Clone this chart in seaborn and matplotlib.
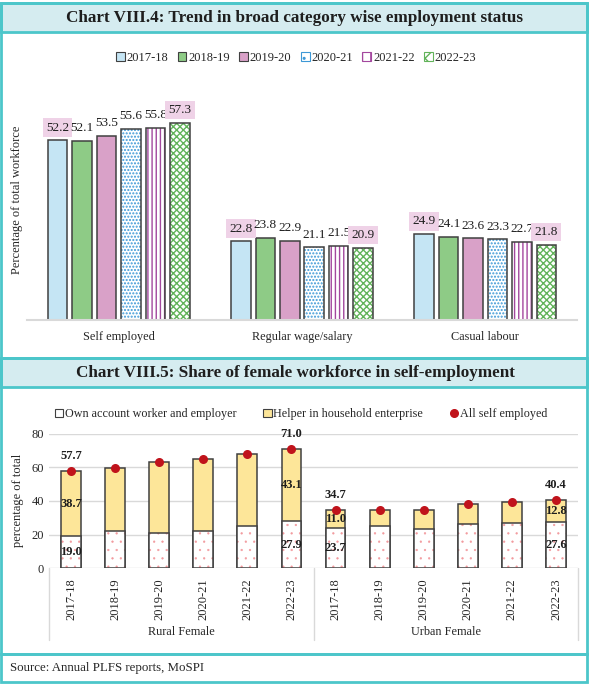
import numpy as np
import pandas as pd
import matplotlib
matplotlib.use('Agg')
import matplotlib.pyplot as plt
import matplotlib.transforms as mtrans
from matplotlib.patches import Rectangle, Patch
from matplotlib.lines import Line2D
import seaborn as sns

# ---- Chart VIII.4 data ----
categories = ['Self employed', 'Regular wage/salary', 'Casual labour']
years = ['2017-18', '2018-19', '2019-20', '2020-21', '2021-22', '2022-23']
self_employed = [52.2, 52.1, 53.5, 55.6, 55.8, 57.3]
regular_wage = [22.8, 23.8, 22.9, 21.1, 21.5, 20.9]
casual_labour = [24.9, 24.1, 23.6, 23.3, 22.7, 21.8]

# ---- Chart VIII.5 data ----
areas = ['Rural Female', 'Urban Female']
rural_own = [19.0, 21.9, 20.7, 21.9, 25.0, 27.9]
rural_all = [57.7, 59.6, 63.0, 64.9, 67.9, 71.0]
urban_own = [23.7, 24.9, 23.5, 26.1, 26.9, 27.6]
urban_all = [34.7, 34.5, 34.4, 38.5, 39.5, 40.4]

sns.set_style('white')
plt.rcParams['font.family'] = ['Liberation Serif', 'DejaVu Serif']
plt.rcParams['hatch.linewidth'] = 1.0

W, H = 591, 685
fig = plt.figure(figsize=(W / 100, H / 100), dpi=100)


def rect(x, y, w, h):
    return [x / W, 1 - (y + h) / H, w / W, h / H]


def outline(ax, bar):
    ax.add_patch(Rectangle(bar.get_xy(), bar.get_width(), bar.get_height(),
                           facecolor='none', edgecolor=edge, lw=1.1, zorder=bar.get_zorder() + 0.1))


teal = '#4cc6ca'
head_fill = '#d5ecf0'
edge = '#404040'

# frames and headers
for (y, h) in [(3, 29), (358, 29)]:
    fig.add_artist(Rectangle((1.5 / W, 1 - (y + h) / H), 585 / W, h / H, transform=fig.transFigure,
                             facecolor=head_fill, edgecolor=teal, lw=2))
for (y, h) in [(3, 355), (358, 296), (654, 28)]:
    fig.add_artist(Rectangle((1.5 / W, 1 - (y + h) / H), 585 / W, h / H, transform=fig.transFigure,
                             facecolor='none', edgecolor=teal, lw=2))

fig.text(295 / W, 1 - 17.5 / H, 'Chart VIII.4: Trend in broad category wise employment status',
         ha='center', va='center', fontsize=12.3, weight='bold', color='#1e1e1e')
fig.text(295 / W, 1 - 373 / H, 'Chart VIII.5: Share of female workforce in self-employment',
         ha='center', va='center', fontsize=12.3, weight='bold', color='#1e1e1e')
fig.text(10 / W, 1 - 668 / H, 'Source: Annual PLFS reports, MoSPI', ha='left', va='center', fontsize=9.3)

# ================= Chart VIII.4 =================
face = {'2017-18': '#c5e5f4', '2018-19': '#8ecb86', '2019-20': '#d9a1c8',
        '2020-21': 'white', '2021-22': 'white', '2022-23': 'white'}
hatch = {'2020-21': ('.....', '#3d98d6'), '2021-22': ('||||', '#a3479e'), '2022-23': ('xxxxx', '#62b35a')}

df1 = pd.DataFrame({'category': np.repeat(categories, len(years)),
                    'year': years * len(categories),
                    'value': self_employed + regular_wage + casual_labour})

ax1 = fig.add_axes(rect(27, 110, 550, 209.5))
sns.barplot(data=df1, x='category', y='value', hue='year', hue_order=years, palette=face,
            saturation=1, width=0.8, gap=0.2, edgecolor=edge, linewidth=1.1, legend=False, ax=ax1)

for yr, cont in zip(years, ax1.containers):
    for bar in cont:
        if yr in hatch:
            h, hc = hatch[yr]
            bar.set_hatch(h)
            bar.set_edgecolor(hc)
            bar.set_linewidth(0)
            outline(ax1, bar)
        v = bar.get_height()
        kw = {}
        if yr in (years[0], years[-1]):
            kw['bbox'] = dict(boxstyle='square,pad=0.25', facecolor='#efd2e7', edgecolor='none')
        ax1.text(bar.get_x() + bar.get_width() / 2, v + 1.9, f'{v:.1f}', ha='center', va='bottom',
                 fontsize=9.5, color='#1e1e1e', **kw)

ax1.set_xlim(-0.5, 2.5)
ax1.set_ylim(0, 61)
ax1.set_yticks([])
ax1.set_xlabel('')
ax1.set_ylabel('Percentage of total workforce', fontsize=9)
ax1.yaxis.set_label_coords(-0.007, 0.57)
ax1.tick_params(axis='x', length=0, labelsize=8.8, pad=8)
sns.despine(ax=ax1, left=True)
ax1.spines['bottom'].set_color('#d9d9d9')
ax1.spines['bottom'].set_linewidth(1.5)

leg1 = []
for yr in years:
    if yr in hatch:
        leg1.append(Patch(facecolor='white', edgecolor=hatch[yr][1], hatch=hatch[yr][0][:2], lw=0.8))
    else:
        leg1.append(Patch(facecolor=face[yr], edgecolor=edge, lw=0.8))
fig.legend(leg1, years, loc='center', bbox_to_anchor=(296 / W, 1 - 58 / H), ncol=6, frameon=False,
           fontsize=9, handlelength=0.7, handleheight=0.7, handletextpad=0.15, columnspacing=0.75)

# ================= Chart VIII.5 =================
slots = [f'{a} {y}' for a in areas for y in years]
df2 = pd.DataFrame({'slot': slots, 'all': rural_all + urban_all, 'own': rural_own + urban_own})

ax2 = fig.add_axes(rect(49, 433.7, 529, 134.6))
sns.barplot(data=df2, x='slot', y='all', color='#fde699', saturation=1, width=0.45,
            edgecolor=edge, linewidth=1.1, ax=ax2)
sns.barplot(data=df2, x='slot', y='own', color='white', saturation=1, width=0.45,
            edgecolor=edge, linewidth=1.1, ax=ax2)
for bar in ax2.containers[1]:
    bar.set_hatch('..')
    bar.set_edgecolor('#f29a9e')
    bar.set_linewidth(0)
    if hasattr(bar, 'set_hatch_linewidth'):
        bar.set_hatch_linewidth(0.4)
    outline(ax2, bar)
sns.stripplot(data=df2, x='slot', y='all', color='#c0131b', size=6.5, jitter=False,
              linewidth=0, ax=ax2, zorder=5)

for i in [0, 5, 6, 11]:
    own, tot = df2['own'][i], df2['all'][i]
    kw = dict(ha='center', va='center', fontsize=9, weight='bold', color='#1e1e1e', zorder=6)
    ax2.text(i, own / 2, f'{own:.1f}', **kw)
    ax2.text(i, own + (tot - own) / 2, f'{tot - own:.1f}', **kw)
    ax2.text(i, tot + 9, f'{tot:.1f}', **kw)

ax2.set_xlim(-0.5, 11.5)
ax2.set_ylim(0, 80)
ax2.set_yticks([0, 20, 40, 60, 80])
ax2.set_xticks(range(len(slots)))
ax2.set_xticklabels(years * 2, rotation=90)
ax2.tick_params(axis='both', length=0, labelsize=9)
ax2.tick_params(axis='x', pad=7)
ax2.set_axisbelow(True)
ax2.grid(axis='y', color='#d9d9d9', lw=1)
ax2.set_xlabel('')
ax2.set_ylabel('percentage of total', fontsize=9)
ax2.yaxis.set_label_coords(-0.047, 0.507)
for s in ax2.spines.values():
    s.set_visible(False)

blend = mtrans.blended_transform_factory(ax2.transData, ax2.transAxes)
for xs in [-0.5, 5.5, 11.5]:
    ax2.plot([xs, xs], [0, -0.53], color='#d9d9d9', lw=1, transform=blend, clip_on=False)
for k, a in enumerate(areas):
    ax2.text(2.5 + 6 * k, -0.473, a, transform=blend, ha='center', va='center', fontsize=8.8)

leg2 = [Patch(facecolor='white', edgecolor=edge, lw=0.8),
        Patch(facecolor='#fde699', edgecolor=edge, lw=0.8),
        Line2D([], [], marker='o', color='#c0131b', linestyle='none', markersize=5.5)]
fig.legend(leg2, ['Own account worker and employer', 'Helper in household enterprise', 'All self employed'],
           loc='center', bbox_to_anchor=(301 / W, 1 - 414 / H), ncol=3, frameon=False, fontsize=8.7,
           handlelength=0.7, handleheight=0.7, handletextpad=0.15, columnspacing=2.2)

fig.savefig('out.png', dpi=100)
